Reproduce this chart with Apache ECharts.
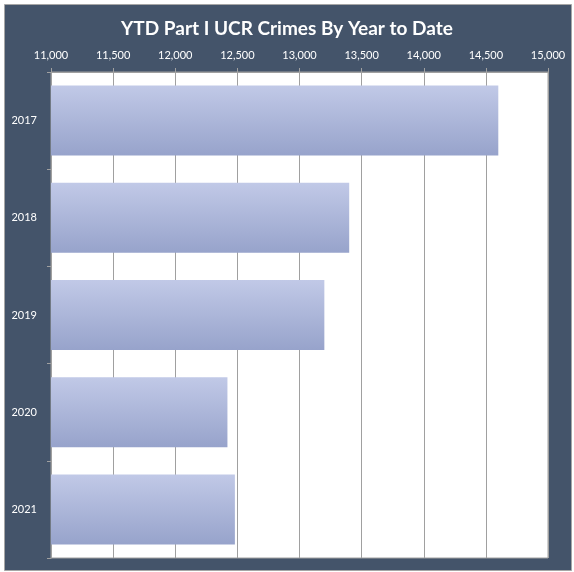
<!DOCTYPE html>
<html><head><meta charset="utf-8">
<script src="https://cdn.jsdelivr.net/npm/echarts@6/dist/echarts.min.js"></script>
<style>html,body{margin:0;padding:0;background:#fff}#c{width:574px;height:572px}</style>
</head><body><div id="c"></div>
<script>
var years = ['2017','2018','2019','2020','2021'];
var crimes = [14600, 13400, 13200, 12420, 12480];
var titleText = 'YTD Part I UCR Crimes By Year to Date';

var chart = echarts.init(document.getElementById('c'), null, {renderer:'canvas'});
chart.setOption({
  backgroundColor: '#fff',
  animation: false,
  graphic: [{
    type: 'rect', z: -10, silent: true,
    shape: {x: 4.5, y: 4.5, width: 567, height: 566},
    style: {fill: '#44546a', stroke: '#a6a6a6', lineWidth: 1}
  }],
  title: {
    text: titleText, left: 'center', top: 14,
    textStyle: {color: '#fff', fontSize: 19, fontWeight: 'bold', fontFamily: 'Lato'}
  },
  grid: {left: 51, right: 26, top: 72, bottom: 14, show: true, backgroundColor: '#fff', borderColor: '#a0a0a0', borderWidth: 1},
  xAxis: {
    type: 'value', position: 'top', min: 11000, max: 15000, interval: 500,
    axisLine: {show: true, lineStyle: {color: '#a0a0a0'}},
    axisTick: {show: true, length: 4, lineStyle: {color: '#a0a0a0'}},
    axisLabel: {color: '#fff', fontSize: 11, fontFamily: 'Lato', margin: 11,
      formatter: function(v){ return v.toLocaleString('en-US'); }},
    splitLine: {show: true, lineStyle: {color: '#a0a0a0', width: 1}}
  },
  yAxis: {
    type: 'category', data: years, inverse: true,
    axisLine: {show: true, lineStyle: {color: '#a0a0a0'}},
    axisTick: {show: true, length: 4, lineStyle: {color: '#a0a0a0'}},
    axisLabel: {color: '#fff', fontSize: 11, fontFamily: 'Lato', margin: 14},
    splitLine: {show: false}
  },
  series: [{
    type: 'bar', data: crimes, barCategoryGap: '28%',
    itemStyle: {color: new echarts.graphic.LinearGradient(0,0,0,1,[
      {offset: 0, color: '#c1c9e7'}, {offset: 1, color: '#97a3cb'}])}
  }]
});
</script></body></html>
